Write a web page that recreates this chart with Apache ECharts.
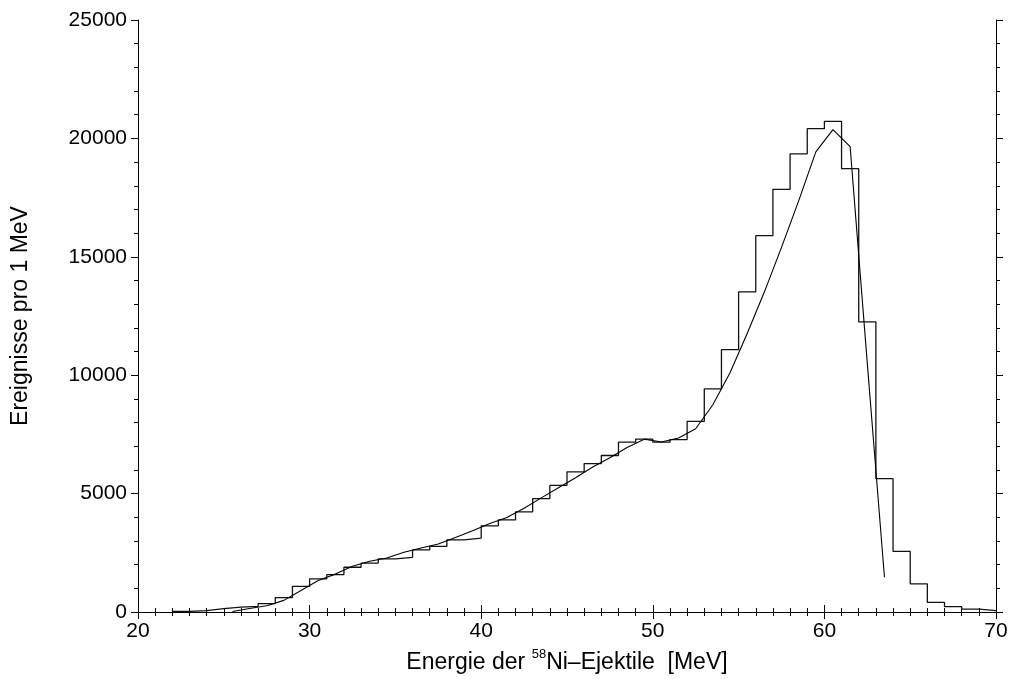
<!DOCTYPE html>
<html>
<head>
<meta charset="utf-8">
<script src="https://cdn.jsdelivr.net/npm/echarts@6/dist/echarts.min.js"></script>
<style>html,body{margin:0;padding:0;background:#fff}#c{width:1011px;height:679px}</style>
</head>
<body>
<div id="c"></div>
<script>
// Histogram: 1 MeV bins, lower edges
const binEdges = [22,23,24,25,26,27,28,29,30,31,32,33,34,35,36,37,38,39,40,41,42,43,44,45,46,47,48,49,50,51,52,53,54,55,56,57,58,59,60,61,62,63,64,65,66,67,68,69];
const binCounts = [30,60,140,210,240,350,610,1080,1400,1580,1890,2060,2240,2310,2620,2770,3050,3120,3640,3890,4230,4790,5350,5920,6270,6610,7170,7300,7170,7280,8050,9420,11080,13520,15890,17850,19350,20410,20720,18720,12250,5630,2560,1190,405,225,125,55];
const binWidth = 1;
// Fit curve (bin centres)
const fitE = [25.5,26.5,27.5,28.5,29.5,30.5,31.5,32.5,33.5,34.5,35.5,36.5,37.5,38.5,39.5,40.5,41.5,42.5,43.5,44.5,45.5,46.5,47.5,48.5,49.5,50.5,51.5,52.5,53.5,54.5,55.5,56.5,57.5,58.5,59.5,60.5,61.5,62.5,63.5];
const fitY = [20,150,265,490,910,1330,1600,1930,2140,2280,2520,2700,2870,3150,3430,3740,3990,4380,4820,5250,5670,6120,6510,6950,7300,7180,7350,7740,8750,10100,11760,13510,15400,17360,19430,20370,19650,10500,1470];
const xTicks = [20,30,40,50,60,70];
const yTicks = [0,5000,10000,15000,20000,25000];

const histData = [];
binEdges.forEach((e,i)=>{ histData.push([e,binCounts[i]]); histData.push([e+binWidth,binCounts[i]]); });
const fitData = fitE.map((e,i)=>[e,fitY[i]]);

const font = 'Liberation Sans, Arial, Helvetica, sans-serif';
const FS = 21;
const TS = 23;
const axisCommon = {
  type:'value', axisLine:{show:true,lineStyle:{color:'#000',width:1}},
  axisTick:{show:true,inside:false,length:7,lineStyle:{color:'#000',width:1}},
  minorTick:{show:true,splitNumber:10,length:4,lineStyle:{color:'#000',width:1}},
  splitLine:{show:false}, minorSplitLine:{show:false}
};
const chart = echarts.init(document.getElementById('c'),null,{renderer:'canvas'});
chart.setOption({
  animation:false,
  backgroundColor:'#fff',
  grid:{left:138,right:15,top:20,bottom:64,containLabel:false},
  xAxis:[
    Object.assign({},axisCommon,{position:'bottom',min:xTicks[0],max:xTicks[xTicks.length-1],interval:10,
      axisLabel:{show:true,color:'#000',fontSize:FS,fontFamily:font,margin:9,formatter:v=>String(v)},
      name:'{n|Energie der }{s|58}{n|Ni\u2013Ejektile  [MeV]}',nameLocation:'middle',nameGap:36,
      nameTextStyle:{color:'#000',fontSize:TS,fontFamily:font,rich:{
        n:{fontSize:TS,fontFamily:font,color:'#000',lineHeight:26,verticalAlign:'bottom'},
        s:{fontSize:13,fontFamily:font,color:'#000',lineHeight:26,verticalAlign:'top',padding:[0,0,11,0]}}}}),
    Object.assign({},axisCommon,{position:'top',min:xTicks[0],max:xTicks[xTicks.length-1],interval:10,axisLabel:{show:false}})
  ],
  yAxis:[
    Object.assign({},axisCommon,{position:'left',min:yTicks[0],max:yTicks[yTicks.length-1],interval:5000,
      minorTick:{show:true,splitNumber:5,length:4,lineStyle:{color:'#000',width:1}},
      axisLabel:{show:true,color:'#000',fontSize:FS,fontFamily:font,margin:11,formatter:v=>String(v)},
      name:'Ereignisse pro 1 MeV',nameLocation:'middle',nameGap:106,
      nameTextStyle:{color:'#000',fontSize:TS,fontFamily:font}}),
    Object.assign({},axisCommon,{position:'right',min:yTicks[0],max:yTicks[yTicks.length-1],interval:5000,
      minorTick:{show:true,splitNumber:5,length:4,lineStyle:{color:'#000',width:1}},
      axisLabel:{show:false}})
  ],
  series:[
    {type:'line',data:histData,symbol:'none',xAxisIndex:0,yAxisIndex:0,
      lineStyle:{color:'#111',width:1.3},z:2},
    {type:'line',data:fitData,symbol:'none',xAxisIndex:0,yAxisIndex:0,
      lineStyle:{color:'#000',width:1.1},z:3}
  ]
});
</script>
</body>
</html>
